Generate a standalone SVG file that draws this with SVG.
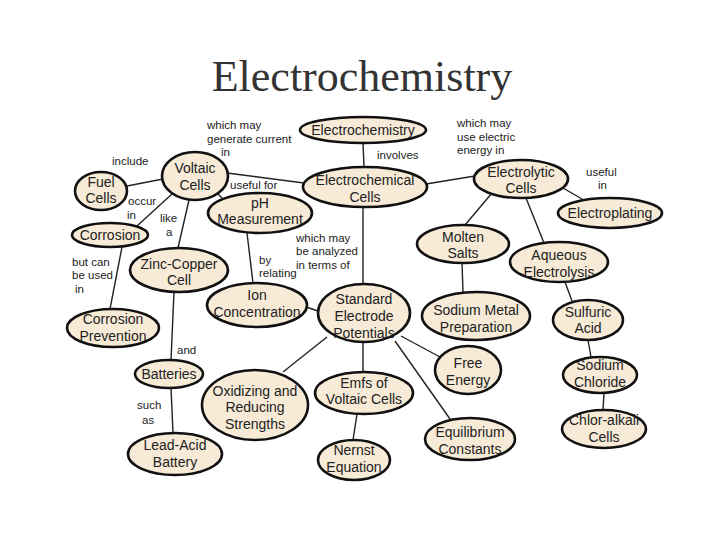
<svg xmlns="http://www.w3.org/2000/svg" width="720" height="540" viewBox="0 0 720 540">
<style>
.title{font-family:"Liberation Serif","Times New Roman",serif;font-size:44px;fill:#333;text-anchor:middle}
.node ellipse{fill:#f7ebd7;stroke:#111;stroke-width:2.6}
.node text{font-family:"Liberation Sans",Arial,sans-serif;font-size:14px;fill:#222;text-anchor:middle}
.edges line{stroke:#222;stroke-width:1.4}
.lbl{font-family:"Liberation Sans",Arial,sans-serif;font-size:11.5px;fill:#222}
</style>
<rect width="720" height="540" fill="#fff"/>
<text class="title" x="362" y="91">Electrochemistry</text>

<g id="connectors" class="edges">
<line x1="363" y1="143" x2="364" y2="167"/>
<line x1="227" y1="173" x2="304" y2="183"/>
<line x1="426" y1="184" x2="475" y2="176"/>
<line x1="127" y1="186" x2="163" y2="179"/>
<line x1="172" y1="194" x2="137" y2="226"/>
<line x1="189" y1="200" x2="178" y2="248"/>
<line x1="217" y1="193" x2="222" y2="198"/>
<line x1="122" y1="247" x2="110" y2="309"/>
<line x1="174" y1="292" x2="171" y2="360"/>
<line x1="171" y1="388" x2="173" y2="433"/>
<line x1="247" y1="233" x2="253" y2="283"/>
<line x1="363" y1="207" x2="363" y2="284"/>
<line x1="306" y1="307" x2="318" y2="311"/>
<line x1="327" y1="337" x2="283" y2="372"/>
<line x1="363" y1="342" x2="363" y2="372"/>
<line x1="401" y1="336" x2="440" y2="357"/>
<line x1="395" y1="341" x2="450" y2="419"/>
<line x1="357" y1="414" x2="353" y2="440"/>
<line x1="492" y1="193" x2="465" y2="225"/>
<line x1="526" y1="198" x2="544" y2="243"/>
<line x1="563" y1="188" x2="582" y2="199"/>
<line x1="462" y1="263" x2="463" y2="292"/>
<line x1="565" y1="282" x2="572" y2="301"/>
<line x1="588" y1="340" x2="591" y2="357"/>
<line x1="604" y1="393" x2="603" y2="410"/>
</g>

<g id="labels">
<text class="lbl" x="207" y="129">which may</text>
<text class="lbl" x="207" y="143">generate current</text>
<text class="lbl" x="221" y="156">in</text>
<text class="lbl" x="457" y="127">which may</text>
<text class="lbl" x="457" y="141">use electric</text>
<text class="lbl" x="457" y="154">energy in</text>
<text class="lbl" x="377" y="159">involves</text>
<text class="lbl" x="112" y="165">include</text>
<text class="lbl" x="230" y="189">useful for</text>
<text class="lbl" x="128" y="205">occur</text>
<text class="lbl" x="127" y="219">in</text>
<text class="lbl" x="160" y="222">like</text>
<text class="lbl" x="166" y="236">a</text>
<text class="lbl" x="72" y="266">but can</text>
<text class="lbl" x="72" y="279">be used</text>
<text class="lbl" x="75" y="293">in</text>
<text class="lbl" x="259" y="264">by</text>
<text class="lbl" x="259" y="277">relating</text>
<text class="lbl" x="296" y="242">which may</text>
<text class="lbl" x="296" y="255">be analyzed</text>
<text class="lbl" x="296" y="269">in terms of</text>
<text class="lbl" x="586" y="176">useful</text>
<text class="lbl" x="598" y="189">in</text>
<text class="lbl" x="177" y="354">and</text>
<text class="lbl" x="137" y="409">such</text>
<text class="lbl" x="142" y="424">as</text>
</g>

<g id="n-electrochemistry" class="node"><ellipse cx="363" cy="130" rx="63" ry="13"/><text x="363" y="135">Electrochemistry</text></g>
<g id="n-electrochemical-cells" class="node"><ellipse cx="365" cy="187" rx="62" ry="20"/><text x="365" y="185">Electrochemical</text><text x="365" y="202">Cells</text></g>
<g id="n-voltaic" class="node"><ellipse cx="195" cy="176" rx="33" ry="24"/><text x="195" y="173">Voltaic</text><text x="195" y="190">Cells</text></g>
<g id="n-fuel" class="node"><ellipse cx="101" cy="191" rx="26" ry="19"/><text x="101" y="187">Fuel</text><text x="101" y="203">Cells</text></g>
<g id="n-corrosion" class="node"><ellipse cx="110" cy="235" rx="38" ry="12"/><text x="110" y="240">Corrosion</text></g>
<g id="n-ph" class="node"><ellipse cx="260" cy="213" rx="52" ry="20"/><text x="260" y="208">pH</text><text x="260" y="224">Measurement</text></g>
<g id="n-electrolytic" class="node"><ellipse cx="521" cy="179" rx="47" ry="19"/><text x="521" y="177">Electrolytic</text><text x="521" y="193">Cells</text></g>
<g id="n-electroplating" class="node"><ellipse cx="610" cy="213" rx="52" ry="15"/><text x="610" y="218">Electroplating</text></g>
<g id="n-molten" class="node"><ellipse cx="463" cy="244" rx="46" ry="19"/><text x="463" y="242">Molten</text><text x="463" y="258">Salts</text></g>
<g id="n-aqueous" class="node"><ellipse cx="559" cy="262" rx="49" ry="20"/><text x="559" y="260">Aqueous</text><text x="559" y="277">Electrolysis</text></g>
<g id="n-sodium-metal" class="node"><ellipse cx="476" cy="316" rx="54" ry="24"/><text x="476" y="315">Sodium Metal</text><text x="476" y="332">Preparation</text></g>
<g id="n-sulfuric" class="node"><ellipse cx="588" cy="320" rx="35" ry="20"/><text x="588" y="317">Sulfuric</text><text x="588" y="333">Acid</text></g>
<g id="n-nacl" class="node"><ellipse cx="600" cy="375" rx="37" ry="18"/><text x="600" y="370">Sodium</text><text x="600" y="387">Chloride</text></g>
<g id="n-chlor-alkali" class="node"><ellipse cx="604" cy="429" rx="42" ry="19"/><text x="604" y="425">Chlor-alkali</text><text x="604" y="442">Cells</text></g>
<g id="n-free-energy" class="node"><ellipse cx="468" cy="370" rx="33" ry="24"/><text x="468" y="368">Free</text><text x="468" y="385">Energy</text></g>
<g id="n-equilibrium" class="node"><ellipse cx="470" cy="439" rx="45" ry="21"/><text x="470" y="437">Equilibrium</text><text x="470" y="454">Constants</text></g>
<g id="n-nernst" class="node"><ellipse cx="354" cy="460" rx="36" ry="20"/><text x="354" y="455">Nernst</text><text x="354" y="472">Equation</text></g>
<g id="n-emfs" class="node"><ellipse cx="364" cy="393" rx="49" ry="21"/><text x="364" y="388">Emfs of</text><text x="364" y="404">Voltaic Cells</text></g>
<g id="n-standard" class="node"><ellipse cx="364" cy="313" rx="46" ry="29"/><text x="364" y="304">Standard</text><text x="364" y="321">Electrode</text><text x="364" y="338">Potentials</text></g>
<g id="n-ion" class="node"><ellipse cx="257" cy="305" rx="50" ry="22"/><text x="257" y="300">Ion</text><text x="257" y="317">Concentration</text></g>
<g id="n-zinc-copper" class="node"><ellipse cx="179" cy="270" rx="49" ry="22"/><text x="179" y="269">Zinc-Copper</text><text x="179" y="285">Cell</text></g>
<g id="n-corrosion-prevention" class="node"><ellipse cx="113" cy="328" rx="46" ry="19"/><text x="113" y="324">Corrosion</text><text x="113" y="341">Prevention</text></g>
<g id="n-batteries" class="node"><ellipse cx="169" cy="374" rx="34" ry="14"/><text x="169" y="379">Batteries</text></g>
<g id="n-lead-acid" class="node"><ellipse cx="175" cy="454" rx="47" ry="21"/><text x="175" y="450">Lead-Acid</text><text x="175" y="467">Battery</text></g>
<g id="n-oxidizing" class="node"><ellipse cx="255" cy="405" rx="53" ry="35"/><text x="255" y="396">Oxidizing and</text><text x="255" y="412">Reducing</text><text x="255" y="429">Strengths</text></g>
</svg>
